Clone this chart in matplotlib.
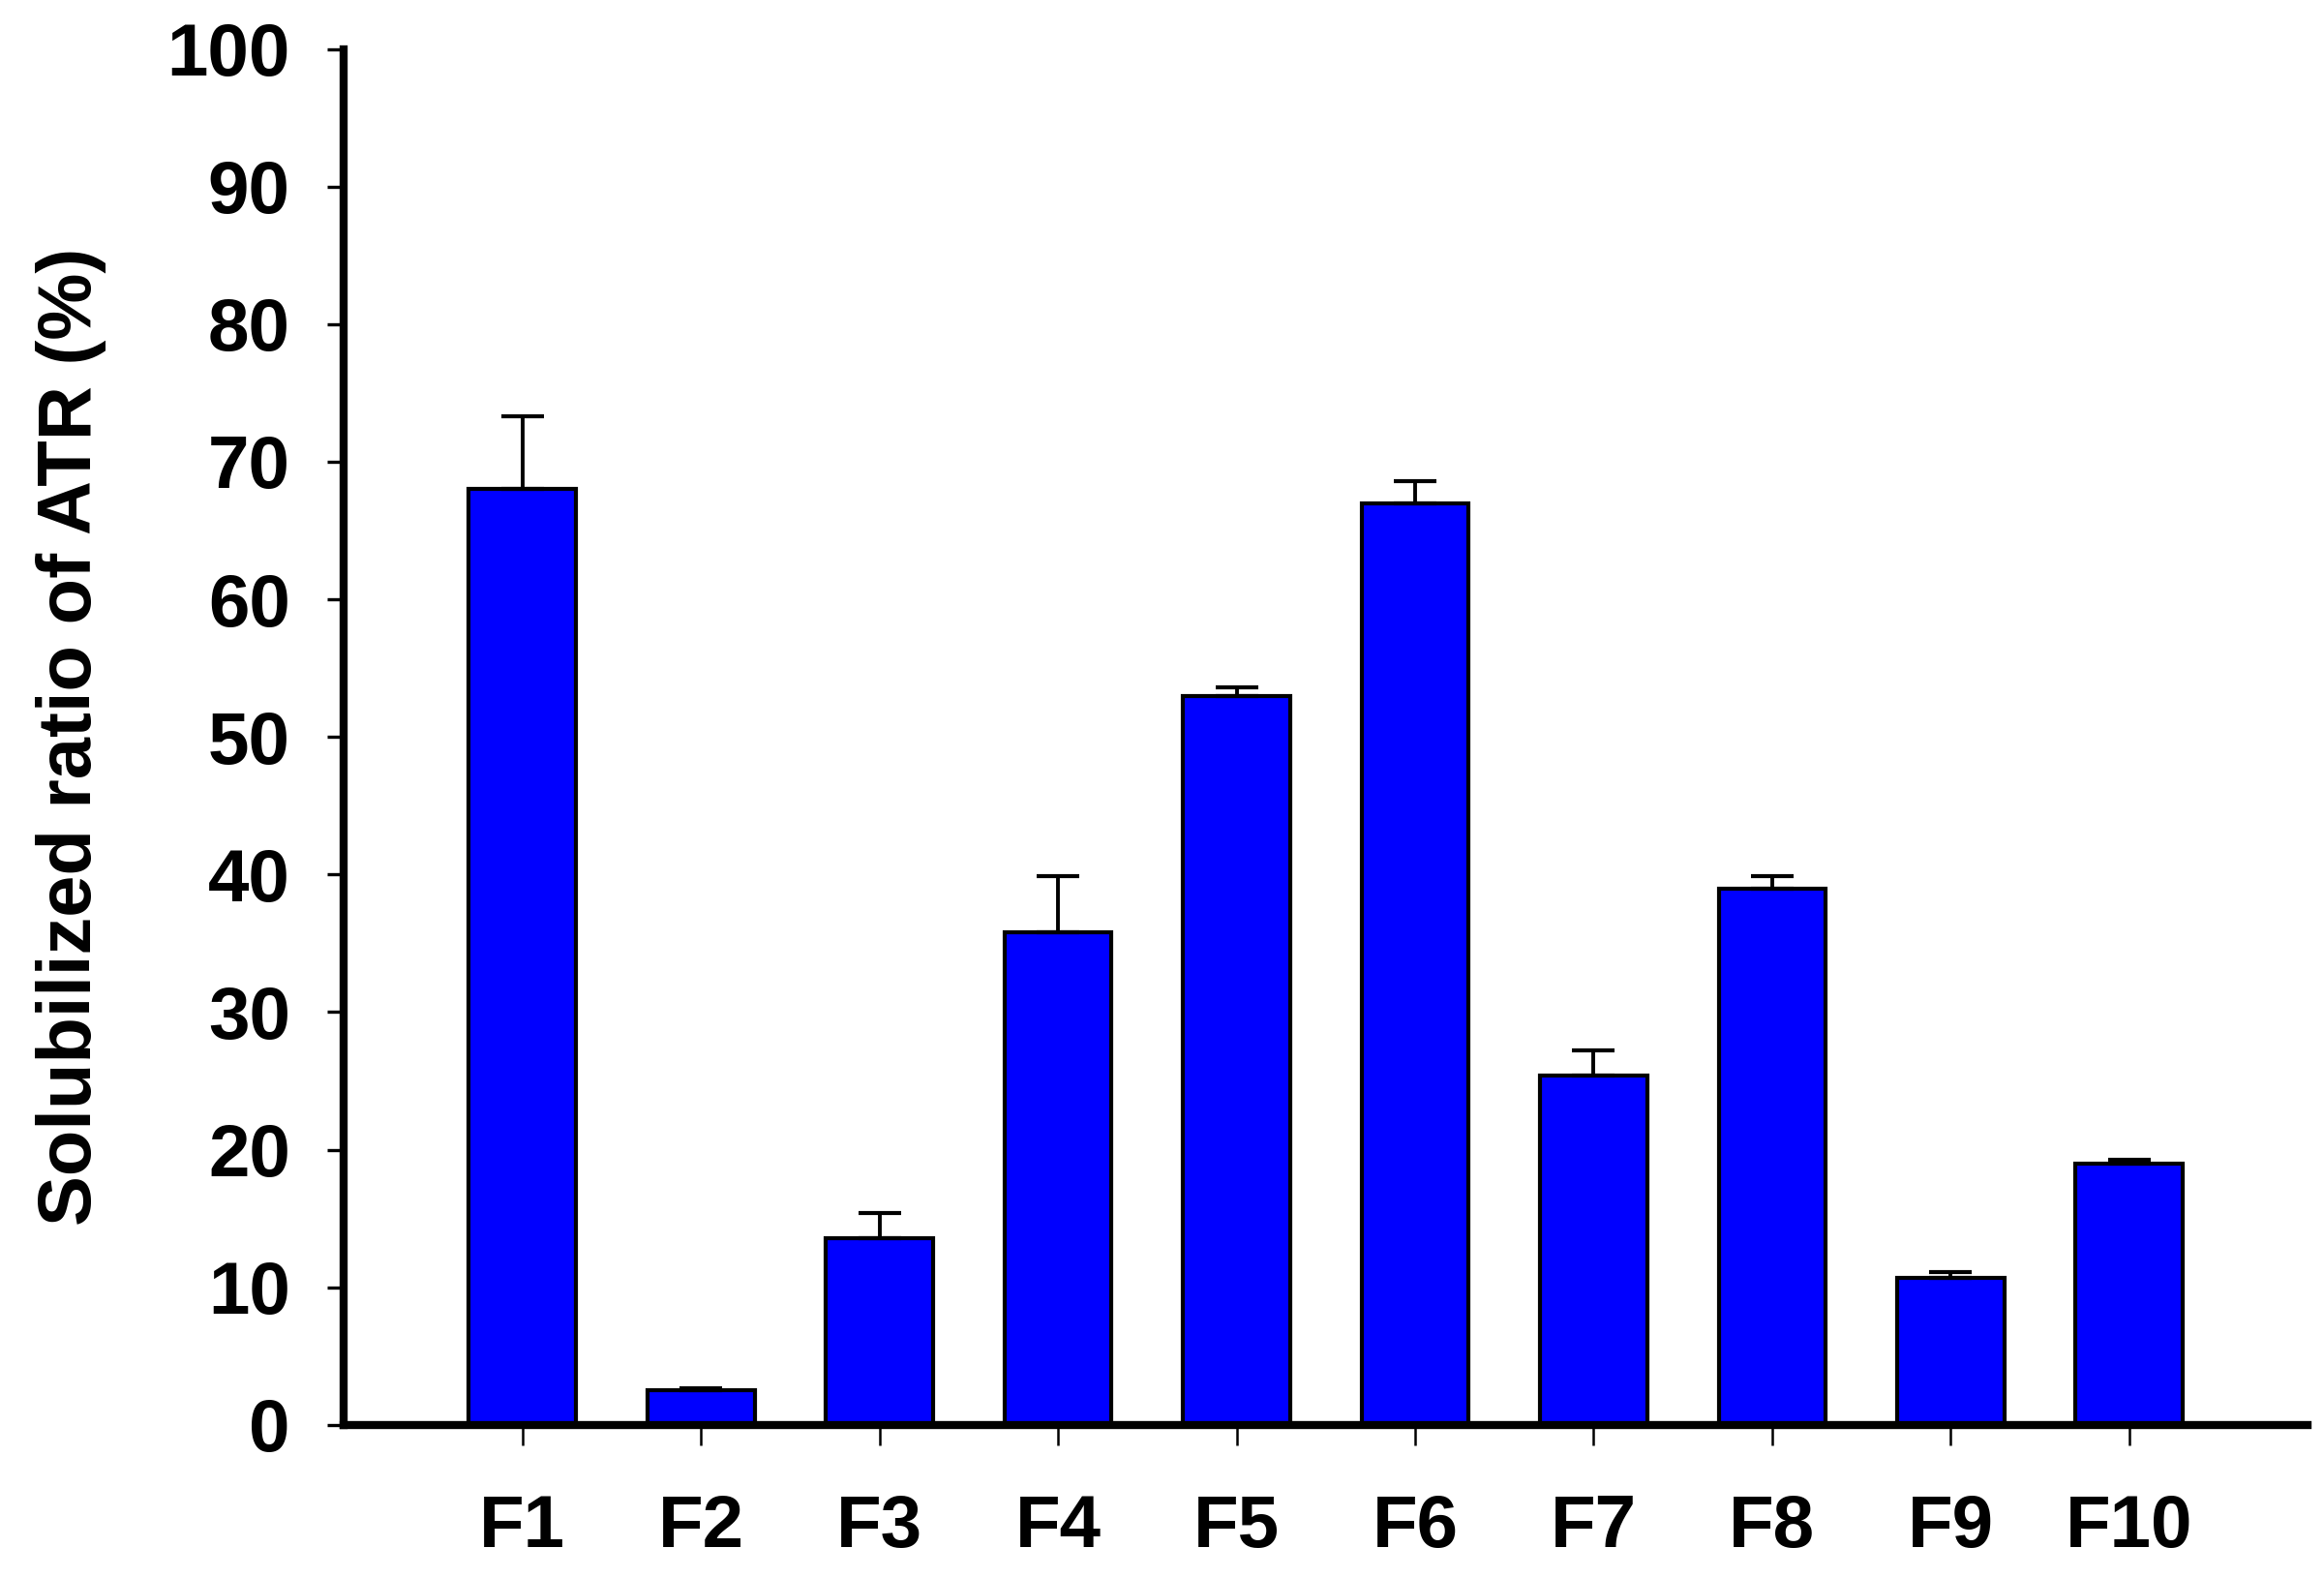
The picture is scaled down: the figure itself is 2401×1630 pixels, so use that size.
import numpy as np
import matplotlib
matplotlib.use("Agg")
import matplotlib.pyplot as plt

# values
formulations = ["F1", "F2", "F3", "F4", "F5", "F6", "F7", "F8", "F9", "F10"]
solubilized = [68.0, 2.5, 13.6, 35.8, 53.0, 67.0, 25.4, 39.0, 10.7, 19.0]
errors = [5.3, 0.2, 1.8, 4.1, 0.6, 1.6, 1.8, 0.9, 0.4, 0.3]
y_ticks = [0, 10, 20, 30, 40, 50, 60, 70, 80, 90, 100]

plt.rcParams["font.family"] = ["Liberation Sans", "DejaVu Sans"]
plt.rcParams["font.weight"] = "bold"

fig = plt.figure(figsize=(24.01, 16.30), dpi=100)
ax = fig.add_axes([0.148, 0.097, 0.845, 0.872])

x = np.arange(1, len(formulations) + 1)
ax.bar(x, solubilized, width=0.6, color="#0000ff", edgecolor="black",
       linewidth=3.0, zorder=2)
ax.errorbar(x, solubilized, yerr=[np.zeros(len(errors)), errors], fmt="none",
            ecolor="black", elinewidth=2.8, capsize=16, capthick=3.0, zorder=3)

ax.set_xlim(0, 11)
ax.set_ylim(0, 100)
ax.set_yticks(y_ticks)
ax.set_xticks(x)
ax.set_xticklabels(formulations)

for side in ["top", "right"]:
    ax.spines[side].set_visible(False)
ax.spines["left"].set_linewidth(6.0)
ax.spines["bottom"].set_linewidth(6.0)
ax.spines["bottom"].set_zorder(4)

ax.tick_params(axis="y", direction="out", length=12, width=2.4, pad=28,
               labelsize=55)
ax.tick_params(axis="x", direction="out", length=15, width=1.8, pad=36,
               labelsize=55)
for lbl in ax.get_xticklabels() + ax.get_yticklabels():
    lbl.set_fontweight("bold")

ax.set_ylabel("Solubilized ratio of ATR (%)", fontsize=56, fontweight="bold")
ax.yaxis.set_label_coords(-0.121, 0.5)

fig.savefig("out.png", dpi=100)
